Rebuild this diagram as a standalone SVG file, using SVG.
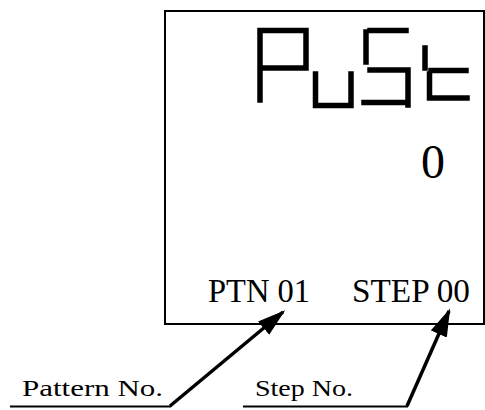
<svg xmlns="http://www.w3.org/2000/svg" width="485" height="410" viewBox="0 0 485 410">
<style>
.seg{stroke:#000;stroke-width:5.5;stroke-linecap:square;fill:none}
.lbl{font-family:"Liberation Serif","Times New Roman",serif;fill:#000}
.ln{stroke:#000;stroke-width:2;fill:none}
.arr{stroke:#000;stroke-width:3.5;fill:none}
</style>
<defs>
<marker id="ah" viewBox="0 0 10 10" refX="9" refY="5" markerWidth="8" markerHeight="5" markerUnits="strokeWidth" orient="auto" preserveAspectRatio="none">
<path d="M0,0 L10,5 L0,10 Z" fill="#000"/>
</marker>
</defs>
<g id="display">
<rect x="165" y="11" width="319" height="313" fill="#fff" stroke="#000" stroke-width="2"/>
<g id="pust">
<path class="seg" d="M260,31 V100 M260,30.5 H306 M306,31 V68 M260,68 H306"/>
<path class="seg" d="M315.5,74 V105.5 H351 V74"/>
<path class="seg" d="M370,30.5 H406 M366,32 V62 M370,70 H404 M408,70 V105 M364,102.5 H408"/>
<path class="seg" d="M425,48 V68 M429.5,74 V98 H467 M431,70.5 H466"/>
</g>
<text class="lbl" x="433" y="178" font-size="48" text-anchor="middle">0</text>
<text class="lbl" x="208" y="302" font-size="34" textLength="102" lengthAdjust="spacingAndGlyphs">PTN 01</text>
<text class="lbl" x="352" y="302" font-size="34" textLength="118" lengthAdjust="spacingAndGlyphs">STEP 00</text>
</g>
<g id="pattern-label">
<text class="lbl" x="22" y="396" font-size="24" textLength="141" lengthAdjust="spacingAndGlyphs">Pattern No.</text>
</g>
<g id="step-label">
<text class="lbl" x="255" y="396" font-size="24" textLength="98" lengthAdjust="spacingAndGlyphs">Step No.</text>
</g>
<g id="connectors">
<path class="ln" d="M10,406.5 H171"/>
<path class="arr" d="M170,406 L283,312" marker-end="url(#ah)"/>
<path class="ln" d="M243,406.5 H408"/>
<path class="arr" d="M407,406 L449,311" marker-end="url(#ah)"/>
</g>
</svg>
